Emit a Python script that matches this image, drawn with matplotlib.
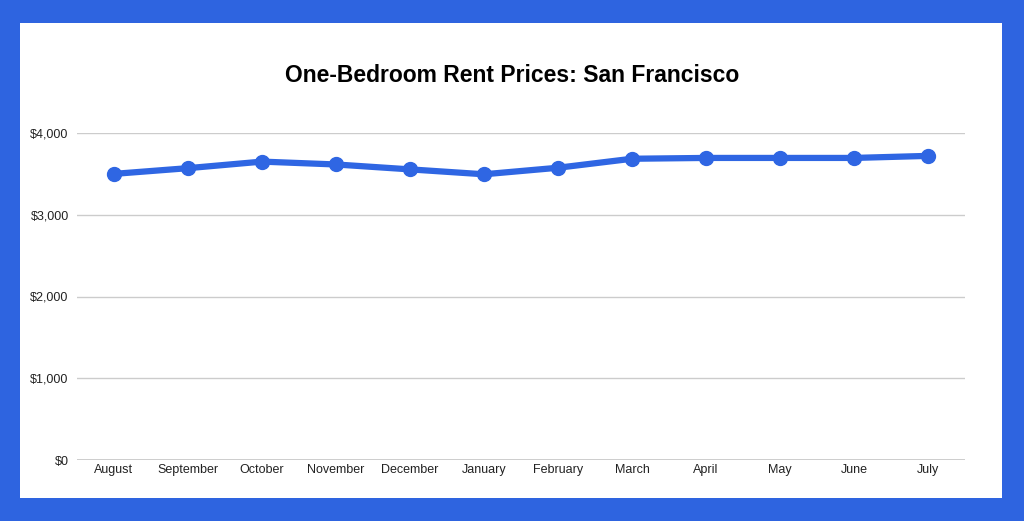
import matplotlib
matplotlib.use("Agg")
import matplotlib.pyplot as plt
from matplotlib.patches import Rectangle

months = ["August","September","October","November","December","January",
          "February","March","April","May","June","July"]
rent = [3500, 3570, 3650, 3615, 3555, 3495, 3575, 3685, 3695, 3695, 3695, 3720]
yticks = [0, 1000, 2000, 3000, 4000]
ylabels = ["$0", "$1,000", "$2,000", "$3,000", "$4,000"]

W, H = 1024, 521
fig = plt.figure(figsize=(W/100, H/100), dpi=100)
fig.patch.set_facecolor("#2e64e0")
fig.patches.append(Rectangle((20/W, 23/H), (1002-20)/W, (498-23)/H,
                             transform=fig.transFigure, facecolor="white",
                             edgecolor="none", zorder=0))

ax = fig.add_axes([77/W, (H-460)/H, (965-77)/W, (460-133)/H])
ax.set_facecolor("white")
ax.set_zorder(1)
x = list(range(len(months)))
ax.plot(x, rent, color="#2f66e3", lw=4.5, marker="o", ms=10, zorder=3)
ax.set_xlim(-0.5, len(months)-0.5)
ax.set_ylim(0, 4000)
ax.set_yticks(yticks)
ax.set_yticklabels(ylabels)
ax.set_xticks(x)
ax.set_xticklabels(months)
ax.tick_params(length=0, labelsize=9, colors="#222222")
ax.tick_params(axis="y", pad=6)
ax.tick_params(axis="x", pad=3)
for s in ax.spines.values():
    s.set_visible(False)
ax.grid(axis="y", color="#cccccc", lw=1)
ax.axhline(0, color="#333333", lw=1)
ax.set_axisbelow(True)
for t in ax.get_xticklabels() + ax.get_yticklabels():
    t.set_fontfamily("Liberation Sans")

fig.text(512/W, 1-76/H, "One-Bedroom Rent Prices: San Francisco", ha="center",
         va="center", fontsize=16.5, fontweight="bold", family="Liberation Sans")
fig.savefig("out.png", dpi=100, facecolor=fig.get_facecolor())
